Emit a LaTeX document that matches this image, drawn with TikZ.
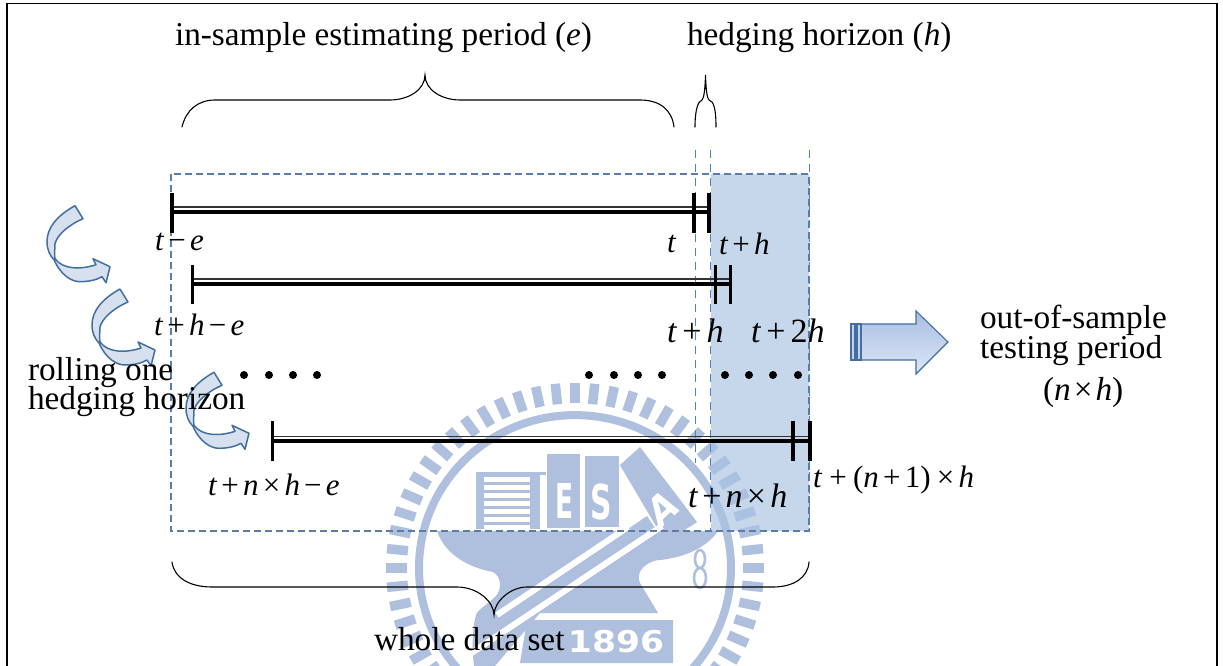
\documentclass[tikz,border=0pt]{standalone}
\usepackage{fontspec}
\setmainfont{Liberation Serif}
\newfontfamily\wmfont{DejaVu Sans}
\definecolor{wm}{HTML}{AFC0DF}
\definecolor{dashblue}{HTML}{5A7DA8}
\definecolor{vdash}{HTML}{4F81BD}
\definecolor{bandblue}{HTML}{A8C3E3}
\definecolor{arrowline}{HTML}{426F9F}
\definecolor{arrowfill}{HTML}{D6E0EE}
\definecolor{bigtop}{HTML}{A9BEE2}
\definecolor{bigbot}{HTML}{DCE6F5}
\newcommand\mi[1]{\textit{#1}}
\newcommand\op[1]{\hspace{4.2pt}#1\hspace{4.2pt}}
\newcommand\fs[1]{\fontsize{#1}{#1}\selectfont}
\tikzset{
  lbl/.style={anchor=base west,inner sep=0pt,outer sep=0pt,font=\fs{33.3}},
  mlbl/.style={anchor=base west,inner sep=0pt,outer sep=0pt,font=\fs{31}},
  mlblbig/.style={anchor=base west,inner sep=0pt,outer sep=0pt,font=\fs{34}},
  wmtext/.style={inner sep=0pt,text=white,font=\wmfont\bfseries},
  tick/.style={line width=3.4pt,black},
  bar/.style={line width=4pt,black},
  barthin/.style={line width=1.2pt,black!80},
  brace/.style={line width=1.1pt,black,line cap=round},
  vdashed/.style={vdash,line width=1pt,dash pattern=on 8pt off 6pt},
  boxdash/.style={dashblue,line width=1.2pt,dash pattern=on 7pt off 4pt},
  dotmark/.style={circle,fill=black,inner sep=0pt,minimum size=8pt},
  curvearrow/.pic={
    \draw[arrowline,line width=1.5pt,fill=arrowfill,line join=round]
      (0,0) .. controls (-18,10) and (-28,22) .. (-28,36)
      .. controls (-28,44) and (-25,50) .. (-21,54)
      .. controls (-14,70) and (-3,76) .. (5,76)
      .. controls (14,76) and (22,74) .. (27,71)
      -- (31,77) -- (35,61) -- (18,53) -- (21,59)
      .. controls (6,64) and (-12,64) .. (-20,53)
      .. controls (-21,48) and (-20,44) .. (-20,38)
      .. controls (-18,30) and (-8,20) .. (8,13) -- cycle;
  }
}
\begin{document}
\begin{tikzpicture}[x=1pt,y=-1pt]
\useasboundingbox (0,0) rectangle (1223,666);
\clip (0,0) rectangle (1223,666);
\fill[white] (0,0) rectangle (1223,666);
\draw[line width=1.6pt,black] (7,666) -- (7,3.5) -- (1217,3.5) -- (1217,666);

% watermark seal
\begin{scope}[shift={(575,568)},yscale=.98]
  \foreach \a in {0,6,...,359} {
    \draw[wm,line width=9.5pt] (\a:168) -- (\a:189);
  }
  \draw[wm,line width=8pt] (0,0) circle (156);
\end{scope}
% books
\fill[wm] (476,472) rectangle (546,475);
\fill[wm] (476,472) rectangle (540,529);
\foreach \y in {477,485,493,501,509,517,525} {
  \fill[white] (484,\y) rectangle (530,\y+4.5);
}
\fill[wm] (547,454) rectangle (580,528);
\fill[wm] (585,456) rectangle (619,527);
\node[wmtext,font=\wmfont\bfseries\fs{48},xscale=.55] (wmE) at (564.5,500.5) {E};
\node[wmtext,font=\wmfont\bfseries\fs{48},xscale=.62] (wmS) at (601,502.5) {S};
% hammer
\draw[line width=.8pt,color=white!80!wm] (619,464) -- (667,542) -- (697,522);
\fill[wm] (620,465) -- (640,447) -- (697,522) -- (672,538) -- (660,533) -- cycle;
\fill[wm] (625,531) -- (647,516) -- (657,531) -- cycle;
\node[wmtext,font=\wmfont\bfseries\fs{42},xscale=.8,rotate=37] (wmA) at (663,508) {A};
% anvil
\fill[wm] (437,531) .. controls (445,555) and (470,568) .. (493,572)
  .. controls (502,577) and (502,590) .. (495,597)
  .. controls (487,605) and (477,610) .. (476,615)
  .. controls (472,630) and (472,650) .. (474,666)
  -- (495,666) -- (540,613) -- (658,613) -- (640,583)
  .. controls (634,570) and (650,560) .. (660,560)
  .. controls (680,558) and (705,550) .. (718,531) -- cycle;
\draw[white,line width=6pt] (628,527) -- (497,615);
\draw[white,line width=6pt] (662,526) -- (470,654);
\draw[wm,line width=2.6pt] (700,559) ellipse (5 and 9);
\draw[wm,line width=2.6pt] (700,578) ellipse (6 and 10);
\fill[wm] (527,620) -- (673,620) -- (673,663) -- (520,663) -- cycle;
\node[wmtext,font=\wmfont\bfseries\fs{30},xscale=1.15,anchor=base] (wmY) at (616,652) {1896};

% shaded band and dashed frames
\fill[bandblue,opacity=.65] (710.7,174) rectangle (809,531);
\draw[boxdash] (171,174) rectangle (809,531);
\draw[vdashed] (695,150) -- (695,463);
\draw[vdashed] (710.7,150) -- (710.7,531);
\draw[vdashed] (809,150) -- (809,531);

% braces
\draw[brace] (182,127) .. controls (186,110) and (198,100) .. (215,100) -- (390,100)
  .. controls (408,100) and (425,90) .. (425,75)
  .. controls (425,90) and (442,100) .. (460,100) -- (640,100)
  .. controls (660,100) and (672,110) .. (674,127);
\draw[brace] (695,127) .. controls (695,110) and (698,101) .. (702,100)
  .. controls (704,98) and (705,90) .. (705.5,75)
  .. controls (706,90) and (707,98) .. (709,100)
  .. controls (714,101) and (716,110) .. (716,127);
\draw[brace] (172,562) .. controls (174,578) and (190,587) .. (212,587) -- (457,587)
  .. controls (478,587) and (494,602) .. (494,615)
  .. controls (494,602) and (510,587) .. (527,587) -- (773,587)
  .. controls (793,587) and (808,578) .. (809,562);

% bars
\coordinate (a1) at (172,211.5); \coordinate (a2) at (709,211.5);
\coordinate (b1) at (192.7,283.5); \coordinate (b2) at (730.7,283.5);
\coordinate (c1) at (272.7,441); \coordinate (c2) at (810,441);
\draw[bar] (a1) -- (a2); \draw[barthin] (172,207) -- (709,207);
\draw[bar] (b1) -- (b2); \draw[barthin] (192.7,279) -- (730.7,279);
\draw[bar] (c1) -- (c2); \draw[barthin] (272.7,436.5) -- (810,436.5);
\draw[tick] (172,193) -- (172,233);
\draw[tick] (694,193) -- (694,233);
\draw[tick] (709,193) -- (709,233);
\draw[tick] (192.7,265) -- (192.7,304);
\draw[tick] (715.7,265) -- (715.7,304);
\draw[tick] (730.7,265) -- (730.7,304);
\draw[tick] (272.7,421) -- (272.7,461);
\draw[tick] (793,421) -- (793,461);
\draw[tick] (810,421) -- (810,461);

% dots
\foreach \x/\n in {244/a,269/b,293/c,317/d,589/e,614/f,638/g,662/h,725/i,749/j,773/k,798/l} {
  \node[dotmark] (dot\n) at (\x,375) {};
}

% curved arrows
\pic at (75,205.7) {curvearrow};
\pic at (120,289) {curvearrow};
\pic at (214,372.3) {curvearrow};

% big arrow
\draw[arrowline,line width=1.1pt,top color=bigtop,bottom color=bigbot]
  (861,324) -- (916,324) -- (916,311) -- (948,342) -- (916,374) -- (916,360) -- (861,360) -- cycle;
\draw[arrowline,line width=1.1pt,fill=bigtop!70!white] (851,324) rectangle (861,360);
\draw[arrowline,line width=1.1pt] (855,324) -- (855,360);
\draw[arrowline,line width=1.1pt] (857,324) -- (857,360);

% text
\node[lbl] (title1) at (175,46) {in-sample estimating period (\mi{e})};
\node[lbl] (title2) at (687,46) {hedging horizon (\mi{h})};
\node[lbl] (roll1) at (28,380) {rolling one};
\node[lbl] (roll2) at (28,409) {hedging horizon};
\node[lbl] (whole) at (374,650) {whole data set};
\node[lbl] (out1) at (980,328) {out-of-sample};
\node[lbl] (out2) at (980,358) {testing period};
\node[lbl] (out3) at (1043,400) {(\mi{n}\hspace{3pt}×\hspace{3pt}\mi{h})};
\node[mlbl] (t1) at (155,250) {\mi{t}\op{−}\mi{e}};
\node[mlbl] (t2) at (667,252) {\mi{t}};
\node[mlbl] (t3) at (719,254) {\mi{t}\op{+}\mi{h}};
\node[mlbl] (t4) at (154,335) {\mi{t}\op{+}\mi{h}\op{−}\mi{e}};
\node[mlblbig] (t5) at (667,342) {\mi{t}\hspace{1pt}\op{+}\hspace{1pt}\mi{h}};
\node[mlblbig] (t6) at (751,342) {\mi{t}\hspace{1pt}\op{+}\hspace{1pt}2\mi{h}};
\node[mlbl] (t7) at (208,495) {\mi{t}\op{+}\mi{n}\op{×}\mi{h}\op{−}\mi{e}};
\node[mlblbig] (t8) at (688,507) {\mi{t}\op{+}\mi{n}\op{×}\mi{h}};
\node[mlbl] (t9) at (813,487) {\mi{t}\hspace{3pt}\op{+}\hspace{2pt}(\mi{n}\op{+}1)\hspace{2pt}\op{×}\mi{h}};
\end{tikzpicture}
\end{document}
